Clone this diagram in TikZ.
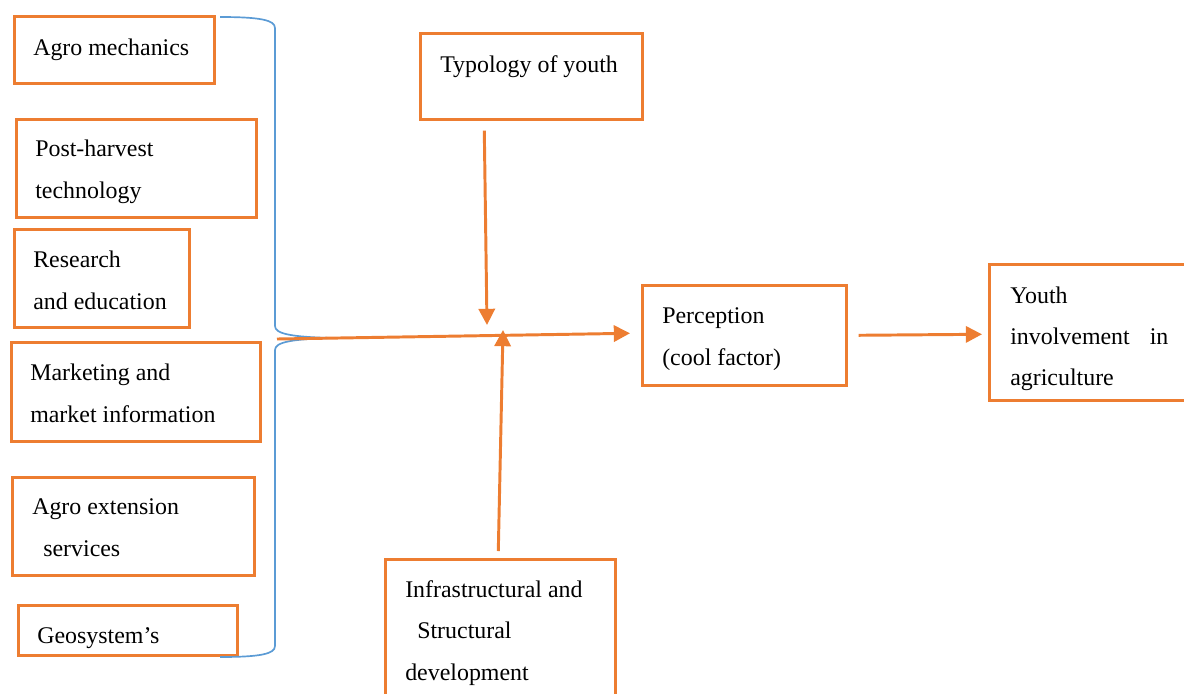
\documentclass[tikz,border=0pt]{standalone}
\usepackage{fontspec}
\setmainfont{Liberation Serif}
\usetikzlibrary{arrows.meta,positioning}
\definecolor{boxorange}{RGB}{237,125,49}
\definecolor{braceblue}{RGB}{91,155,213}

\begin{document}
\begin{tikzpicture}[x=0.025cm, y=-0.025cm, font=\fontsize{17}{29.4}\selectfont,
  box/.style={draw=boxorange, line width=1.8pt, anchor=north west, inner sep=0pt},
  txt/.style={anchor=base west, align=left, inner sep=0pt},
  arr/.style={draw=boxorange, line width=2.1pt, -{Triangle[length=11.5pt,width=11.5pt]}}]
  \useasboundingbox (0,0) rectangle (1184,693);
  \clip (0,0) rectangle (1184,693);

  % left column of factors
  \node[box, minimum width=5cm, minimum height=1.675cm] (mech) at (13,15) {};
  \node[box, minimum width=6cm, minimum height=2.45cm] (post) at (15,118) {};
  \node[box, minimum width=4.375cm, minimum height=2.45cm] (res) at (13,228) {};
  \node[box, minimum width=6.225cm, minimum height=2.475cm] (mkt) at (10,341) {};
  \node[box, minimum width=6.05cm, minimum height=2.45cm] (ext) at (11,476) {};
  \node[box, minimum width=5.475cm, minimum height=1.25cm] (geo) at (17,604) {};

  % (base of the last line)
  \node[txt] (mechl) at (33,55) {Agro mechanics};
  \node[txt] (postl) at (35,198) {Post-harvest\\technology};
  \node[txt] (resl) at (33,309) {Research\\and education};
  \node[txt] (mktl) at (30,422) {Marketing and\\market information};
  \node[txt] (extl) at (32,556) {Agro extension\\\hspace*{0.275cm}services};
  \node[txt] (geol) at (37,643) {Geosystem’s};

  % other boxes
  \node[box, minimum width=5.55cm, minimum height=2.15cm] (typ) at (419,32) {};
  \node[box, minimum width=5.1cm, minimum height=2.5cm] (perc) at (641,284) {};
  \node[box, minimum width=5.5cm, minimum height=3.4cm] (youth) at (988,263) {};
  \node[box, minimum width=5.75cm, minimum height=4cm] (infra) at (384,558) {};

  \node[txt] (typl) at (440,72) {Typology of youth};
  \node[txt] (percl) at (662,365) {Perception\\(cool factor)};
  \node[txt, text width=3.95cm] (youthl) at (1010,303) {Youth\\involvement\hfill in\\agriculture};
  \node[txt] (infral) at (405,680) {Infrastructural and\\\hspace*{0.3cm}Structural\\development};

  % brace and arrows
  \draw[braceblue, line width=1.2pt] (220,17) .. controls (260,17) and (275,20) .. (275,28)
    -- (275,326) .. controls (275,334) and (292,337) .. (333,338)
    .. controls (292,339) and (275,342) .. (275,350)
    -- (275,646) .. controls (275,654) and (260,657) .. (220,657);
  \coordinate (brace) at (277,339);
  \coordinate (jtop) at (487,325);
  \coordinate (jbot) at (503,330);

  \draw[arr] (brace) -- ([shift={(-11,-2)}]perc.west);
  \draw[arr] ([shift={(-47,10)}]typ.south) -- (jtop);
  \draw[arr] ([shift={(-2,-7)}]infra.north) -- (jbot);
  \draw[arr] ([shift={(11,0)}]perc.east) -- ([shift={(-6,2)}]youth.west);
\end{tikzpicture}
\end{document}
